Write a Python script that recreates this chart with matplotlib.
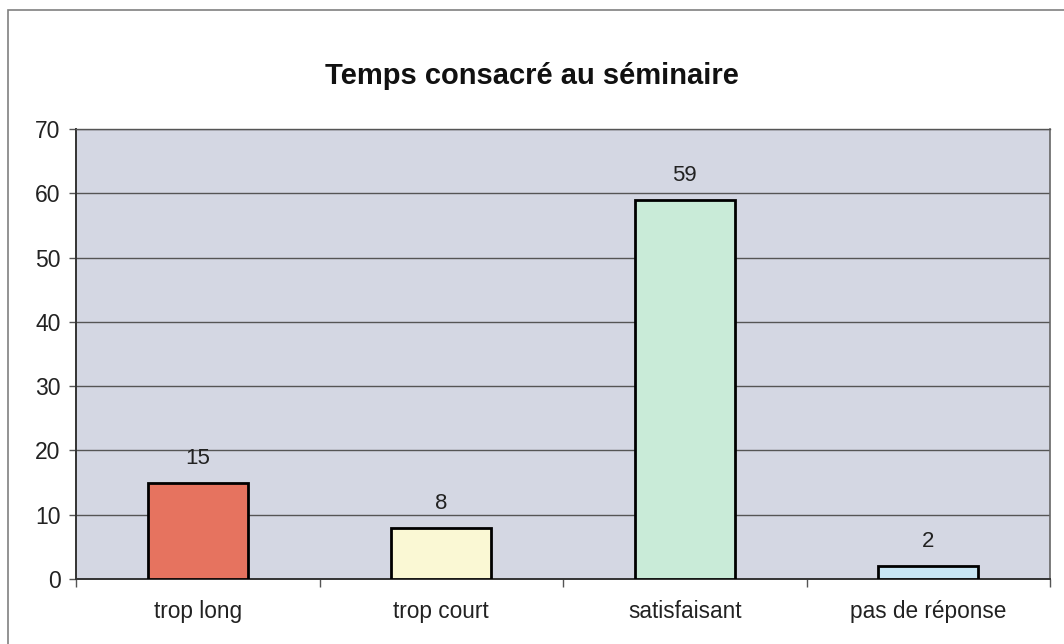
import matplotlib
matplotlib.use("Agg")
import matplotlib.pyplot as plt
from matplotlib.patches import Rectangle

categories = ["trop long", "trop court", "satisfaisant", "pas de réponse"]
values = [15, 8, 59, 2]
bar_colors = ["#E6735F", "#FAF8D4", "#C9EBD8", "#C8E6F4"]
title = "Temps consacré au séminaire"
y_ticks = [0, 10, 20, 30, 40, 50, 60, 70]

plt.rcParams["font.family"] = ["Liberation Sans", "DejaVu Sans"]

W, H = 1064, 644
fig = plt.figure(figsize=(W / 100, H / 100), dpi=100)
fig.patch.set_facecolor("white")

# outer chart frame
fig.patches.append(Rectangle((8 / W, -0.05), 1.1, 1 - 10 / H + 0.05,
                             transform=fig.transFigure, fill=False,
                             edgecolor="#808080", linewidth=1.2))

left, right, top, bottom = 76, 1050, 129, 579
ax = fig.add_axes([left / W, 1 - bottom / H, (right - left) / W, (bottom - top) / H])
ax.set_facecolor("#D4D7E3")

x = list(range(len(categories)))
bars = ax.bar(x, values, width=0.41, color=bar_colors, edgecolor="black",
              linewidth=2.0, zorder=3)
for xi, v in zip(x, values):
    ax.annotate(str(v), (xi, v), xytext=(0, 10), textcoords="offset points",
                ha="center", va="bottom", fontsize=16, color="#222222")

ax.set_xlim(-0.5, len(categories) - 0.5)
ax.set_ylim(0, 70)
ax.set_yticks(y_ticks)
ax.yaxis.grid(True, color="#555555", linewidth=1.0, zorder=1)
ax.set_axisbelow(True)

ax.set_xticks(x)
ax.set_xticklabels(categories, fontsize=16.3, color="#222222")
ax.tick_params(axis="x", length=0, pad=15)
ax.set_xticks([i + 0.5 for i in range(-1, len(categories))], minor=True)
ax.tick_params(axis="x", which="minor", length=6, color="#555555", width=1)
ax.tick_params(axis="y", length=5, color="#555555", width=1, labelsize=16.5,
               labelcolor="#222222", pad=6)

for s in ["left", "bottom"]:
    ax.spines[s].set_color("#333333")
    ax.spines[s].set_linewidth(1.4)
ax.spines["top"].set_color("#555555")
ax.spines["right"].set_color("#666666")
ax.spines["top"].set_linewidth(1.0)
ax.spines["right"].set_linewidth(1.2)

fig.text(0.5, 1 - 76 / H, title, ha="center", va="center", fontsize=21,
         fontweight="bold", color="#111111")

fig.savefig("out.png", dpi=100)
